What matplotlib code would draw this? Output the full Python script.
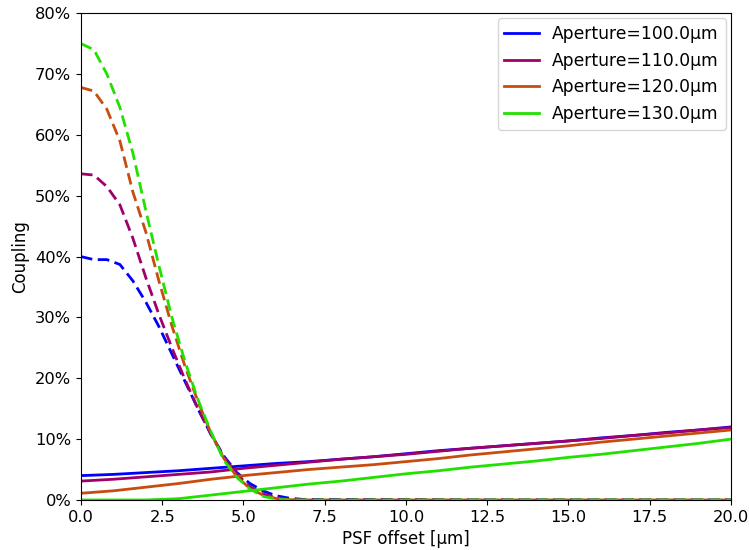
import matplotlib
matplotlib.use("Agg")
import matplotlib.pyplot as plt
from matplotlib.ticker import PercentFormatter

labels = ["Aperture=100.0µm", "Aperture=110.0µm", "Aperture=120.0µm", "Aperture=130.0µm"]
colors = ["#0000ff", "#a0006a", "#c84c10", "#22e000"]

# Solid lines: coupling vs PSF offset (percent)
x_solid = [0, 1, 2, 3, 4, 5, 6, 7, 8, 9, 10, 11, 12, 13, 14, 15, 16, 17, 18, 19, 20]
solid_100 = [4.0, 4.2, 4.5, 4.8, 5.2, 5.6, 6.0, 6.3, 6.7, 7.1, 7.6, 8.1, 8.5, 8.9, 9.3, 9.7, 10.2, 10.6, 11.1, 11.5, 12.0]
solid_110 = [3.1, 3.4, 3.8, 4.2, 4.6, 5.2, 5.7, 6.2, 6.7, 7.1, 7.5, 8.0, 8.5, 8.9, 9.3, 9.7, 10.1, 10.6, 11.0, 11.5, 11.9]
solid_120 = [1.1, 1.5, 2.1, 2.7, 3.4, 4.0, 4.5, 5.0, 5.4, 5.8, 6.3, 6.8, 7.4, 7.9, 8.4, 8.9, 9.5, 10.0, 10.5, 11.0, 11.5]
solid_130 = [0.0, 0.0, 0.0, 0.2, 0.8, 1.4, 2.0, 2.6, 3.1, 3.7, 4.3, 4.8, 5.4, 5.9, 6.4, 7.0, 7.5, 8.1, 8.7, 9.3, 10.0]

# Dashed lines: coupling vs PSF offset (percent)
x_dash = [0.0, 0.4, 0.8, 1.2, 1.6, 2.0, 2.4, 2.8, 3.2, 3.6, 4.0, 4.4, 4.8, 5.2, 5.6, 6.0, 6.4, 6.8, 7.2,
          8.0, 10.0, 12.0, 14.0, 16.0, 18.0, 20.0]
dash_100 = [40.0, 39.5, 39.5, 38.7, 36.0, 32.5, 28.5, 24.0, 19.5, 15.0, 10.8, 7.2, 4.5, 2.7, 1.5, 0.7, 0.3, 0.1, 0.08,
            0.08, 0.06, 0.0, 0.0, 0.0, 0.0, 0.0]
dash_110 = [53.6, 53.4, 51.5, 48.5, 43.0, 36.5, 30.5, 25.0, 19.8, 15.0, 10.8, 7.0, 4.2, 2.2, 1.0, 0.4, 0.1, 0.0, 0.0,
            0.0, 0.05, 0.0, 0.0, 0.0, 0.0, 0.0]
dash_120 = [67.8, 67.2, 64.2, 59.0, 50.6, 44.0, 36.0, 28.6, 22.0, 16.2, 11.0, 6.8, 3.8, 1.9, 0.8, 0.25, 0.05, 0.0, 0.0,
            0.0, 0.0, 0.0, 0.0, 0.0, 0.0, 0.0]
dash_130 = [75.0, 74.0, 70.0, 64.5, 57.0, 47.5, 38.5, 30.0, 22.8, 16.5, 11.2, 6.5, 3.7, 1.8, 0.6, 0.15, 0.0, 0.0, 0.0,
            0.0, 0.0, 0.0, 0.0, 0.0, 0.0, 0.0]

solids = [solid_100, solid_110, solid_120, solid_130]
dashes = [dash_100, dash_110, dash_120, dash_130]

fig, ax = plt.subplots(figsize=(7.49, 5.5), dpi=100)
for lab, c, s, d in zip(labels, colors, solids, dashes):
    ax.plot(x_solid, s, color=c, lw=2, label=lab)
    ax.plot(x_dash, d, color=c, lw=2, ls=(0, (4.2, 2.0)))

ax.set_xlim(0, 20)
ax.set_ylim(0, 80)
ax.set_xticks([0, 2.5, 5, 7.5, 10, 12.5, 15, 17.5, 20])
ax.xaxis.set_major_formatter(plt.FormatStrFormatter("%.1f"))
ax.yaxis.set_major_formatter(PercentFormatter(100, decimals=0))
ax.set_xlabel("PSF offset [µm]", fontsize=12)
ax.set_ylabel("Coupling", fontsize=12)
ax.tick_params(labelsize=11.7)
ax.legend(loc="upper right", fontsize=12.3, borderaxespad=0.3)

fig.subplots_adjust(left=0.108, right=0.976, top=0.976, bottom=0.091)
fig.savefig("out.png", dpi=100)
